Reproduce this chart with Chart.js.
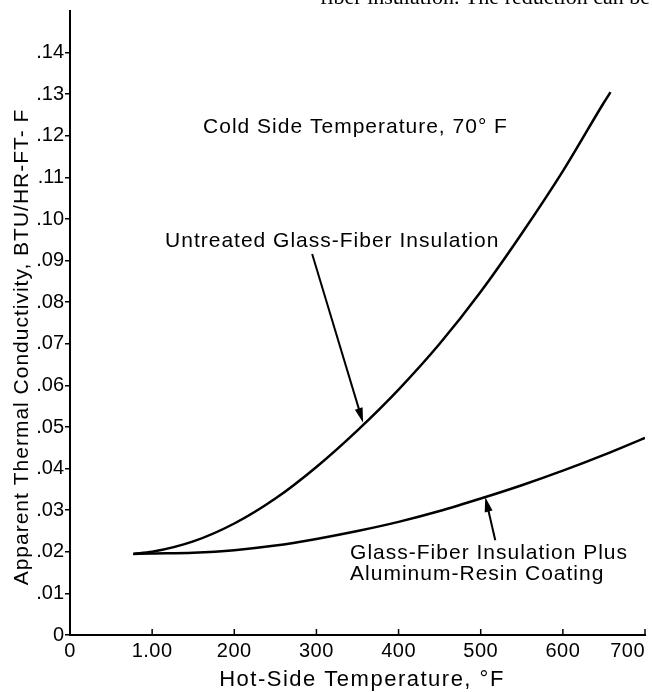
<!DOCTYPE html>
<html>
<head>
<meta charset="utf-8">
<script src="https://cdn.jsdelivr.net/npm/chart.js@4.4.3/dist/chart.umd.min.js"></script>
<style>
  html, body { margin: 0; padding: 0; background: #fff; }
  #chart { display: block; }
</style>
</head>
<body>
<canvas id="chart" width="652" height="692"></canvas>
<script>
// ── data ────────────────────────────────────────────────────────────────────
const tempUntreated = [77, 100, 150, 200, 250, 300, 350, 400, 450, 500, 550, 600, 650, 658];
const kUntreated    = [0.0195, 0.0200, 0.0225, 0.0268, 0.0328, 0.0404, 0.0492, 0.0590, 0.0700, 0.0825, 0.0965, 0.1115, 0.1280, 0.1305];

const tempCoated = [77, 100, 150, 200, 250, 300, 350, 400, 450, 500, 550, 600, 650, 700];
const kCoated    = [0.0195, 0.0196, 0.0198, 0.0204, 0.0215, 0.0231, 0.0250, 0.0272, 0.0298, 0.0328, 0.0360, 0.0395, 0.0433, 0.0474];

const xTickValues = [0, 100, 200, 300, 400, 500, 600, 700];
const xTickLabels = ['0', '1.00', '200', '300', '400', '500', '600', '700'];
const yTickValues = [0, 0.01, 0.02, 0.03, 0.04, 0.05, 0.06, 0.07, 0.08, 0.09, 0.10, 0.11, 0.12, 0.13, 0.14];
const yTickLabels = ['0', '.01', '.02', '.03', '.04', '.05', '.06', '.07', '.08', '.09', '.10', '.11', '.12', '.13', '.14'];

const xTitle = 'Hot-Side Temperature, °F';
const yTitle = 'Apparent Thermal Conductivity, BTU/HR-FT- F';
const noteCold = 'Cold Side Temperature, 70° F';
const labelUntreated = 'Untreated Glass-Fiber Insulation';
const labelCoated = ['Glass-Fiber Insulation Plus', 'Aluminum-Resin Coating'];
const pageText = 'fiber insulation. The reduction can be';

// ── helpers ─────────────────────────────────────────────────────────────────
const FONT = '"Liberation Sans", Arial, Helvetica, sans-serif';
const toPoints = (xs, ys) => xs.map((x, i) => ({ x, y: ys[i] }));

function arrow(ctx, x0, y0, x1, y1) {
  const a = Math.atan2(y1 - y0, x1 - x0);
  const len = 15, half = 4;
  ctx.beginPath();
  ctx.moveTo(x0, y0);
  ctx.lineTo(x1 - Math.cos(a) * len * 0.8, y1 - Math.sin(a) * len * 0.8);
  ctx.stroke();
  ctx.beginPath();
  ctx.moveTo(x1, y1);
  ctx.lineTo(x1 - Math.cos(a) * len + Math.sin(a) * half, y1 - Math.sin(a) * len - Math.cos(a) * half);
  ctx.lineTo(x1 - Math.cos(a) * len - Math.sin(a) * half, y1 - Math.sin(a) * len + Math.cos(a) * half);
  ctx.closePath();
  ctx.fill();
}

// ── labels, arrows, inward x ticks ──────────────────────────────────────────
const figureText = {
  id: 'figureText',
  afterDraw(chart) {
    const { ctx, chartArea } = chart;
    const xs = chart.scales.x, ys = chart.scales.y;
    const px = v => xs.getPixelForValue(v);
    const py = v => ys.getPixelForValue(v);
    ctx.save();
    ctx.fillStyle = '#000';
    ctx.strokeStyle = '#000';

    // inward tick marks on x axis
    ctx.lineWidth = 1.5;
    xTickValues.forEach(v => {
      if (v === 0) return;
      ctx.beginPath();
      ctx.moveTo(px(v), chartArea.bottom);
      ctx.lineTo(px(v), chartArea.bottom - 6);
      ctx.stroke();
    });

    // x tick labels (last one kept inside the axis end)
    ctx.font = '20px ' + FONT;
    ctx.letterSpacing = '0.5px';
    ctx.textBaseline = 'alphabetic';
    ctx.textAlign = 'center';
    xTickValues.forEach((v, i) => {
      const w = ctx.measureText(xTickLabels[i]).width;
      const cx = Math.min(px(v), chartArea.right - w / 2);
      ctx.fillText(xTickLabels[i], cx, chartArea.bottom + 22);
    });

    // axis titles
    ctx.textAlign = 'center';
    ctx.font = '22px ' + FONT;
    ctx.letterSpacing = '1.5px';
    ctx.fillText(xTitle, 362, 686);

    ctx.font = '21px ' + FONT;
    ctx.letterSpacing = '1px';
    ctx.save();
    ctx.translate(28, 347);
    ctx.rotate(-Math.PI / 2);
    ctx.fillText(yTitle, 0, 0);
    ctx.restore();

    // notes inside plot
    ctx.textAlign = 'left';
    ctx.fillText(noteCold, px(162), py(0.1207));
    ctx.fillText(labelUntreated, px(115.7), py(0.0933));
    ctx.fillText(labelCoated[0], px(341), py(0.0182));
    ctx.fillText(labelCoated[1], px(341), py(0.0132));

    // arrows
    ctx.lineWidth = 2;
    arrow(ctx, px(294.8), py(0.0916), px(356.8), py(0.0510));
    arrow(ctx, px(517.7), py(0.0228), px(505.5), py(0.0332));

    // cut-off line of page text at the top edge
    ctx.font = '22px "Liberation Serif", "DejaVu Serif", serif';
    ctx.letterSpacing = '0px';
    ctx.textAlign = 'right';
    ctx.fillText(pageText, 650, 4);
    ctx.restore();
  }
};

const ctx = document.getElementById('chart').getContext('2d');
new Chart(ctx, {
  type: 'line',
  data: {
    datasets: [
      {
        label: labelUntreated,
        data: toPoints(tempUntreated, kUntreated),
        borderColor: '#000',
        borderWidth: 2.5,
        pointRadius: 0,
        cubicInterpolationMode: 'monotone',
        fill: false,
      },
      {
        label: labelCoated.join(' '),
        data: toPoints(tempCoated, kCoated),
        borderColor: '#000',
        borderWidth: 2.5,
        pointRadius: 0,
        cubicInterpolationMode: 'monotone',
        fill: false,
      },
    ],
  },
  options: {
    responsive: false,
    animation: false,
    devicePixelRatio: 1,
    layout: { padding: { top: 11, right: 7, left: 0, bottom: 0 } },
    plugins: { legend: { display: false }, tooltip: { enabled: false } },
    scales: {
      x: {
        type: 'linear',
        min: 0,
        max: 700,
        afterBuildTicks: s => { s.ticks = xTickValues.map(value => ({ value })); },
        afterFit: s => { s.height = 57; s.paddingLeft = 0; s.paddingRight = 0; },
        ticks: { display: false },
        grid: { display: false },
        border: { display: true, color: '#000', width: 2 },
      },
      y: {
        type: 'linear',
        min: 0,
        max: 0.15,
        afterBuildTicks: s => { s.ticks = yTickValues.map(value => ({ value })); },
        afterFit: s => { s.width = 70; s.paddingTop = 0; s.paddingBottom = 0; },
        ticks: {
          color: '#000',
          font: { size: 20, family: FONT },
          padding: 1,
          callback: (v, i) => yTickLabels[i],
        },
        grid: { drawOnChartArea: false, drawTicks: true, tickLength: 5, color: '#000', lineWidth: 1.5 },
        border: { display: true, color: '#000', width: 2 },
      },
    },
  },
  plugins: [figureText],
});
</script>
</body>
</html>
